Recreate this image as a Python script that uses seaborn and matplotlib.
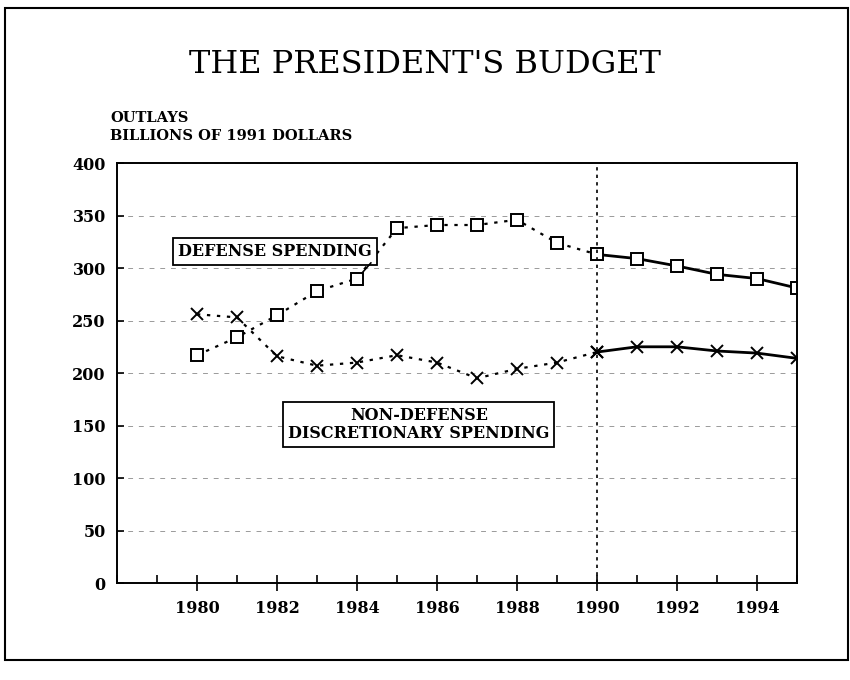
import pandas as pd
import seaborn as sns
import matplotlib.pyplot as plt
from matplotlib.patches import Rectangle
from matplotlib.ticker import MultipleLocator

sns.set_style("white")
plt.rcParams['font.family'] = ['DejaVu Serif']
plt.rcParams['text.color'] = 'black'
plt.rcParams['xtick.color'] = 'black'
plt.rcParams['ytick.color'] = 'black'

years = list(range(1980, 1996))
defense = [217, 234, 255, 278, 290, 338, 341, 341, 346, 324, 313, 309, 302, 294, 290, 281]
non_defense = [256, 253, 216, 207, 210, 217, 210, 195, 204, 210, 220, 225, 225, 221, 219, 214]
split_year = 1990
major_ticks = list(range(1980, 1996, 2))
y_ticks = list(range(0, 401, 50))

df = pd.DataFrame({"year": years * 2,
                   "outlays": defense + non_defense,
                   "series": ["defense"] * len(years) + ["non_defense"] * len(years)})

fig = plt.figure(figsize=(8.5, 6.8), dpi=100)
ax = fig.add_axes([0.1376, 0.1426, 0.80, 0.6176])

styles = {"defense": dict(marker="s", markersize=8.5, markerfacecolor="white",
                          markeredgecolor="black", markeredgewidth=1.4),
          "non_defense": dict(marker="x", markersize=9, markeredgecolor="black",
                              markeredgewidth=1.4)}

for name, st in styles.items():
    d = df[df.series == name]
    past = d[d.year <= split_year]
    plan = d[d.year >= split_year]
    sns.lineplot(data=past, x="year", y="outlays", ax=ax, color="black",
                 linestyle=(0, (1.5, 3)), linewidth=1.6, **st)
    sns.lineplot(data=plan, x="year", y="outlays", ax=ax, color="black",
                 linestyle="-", linewidth=2.0, **st)

ax.axvline(split_year, color="black", linestyle=(0, (2, 2.5)), linewidth=1.2)

ax.set_xlim(1978, 1995)
ax.set_ylim(0, 400)
ax.set_xticks(major_ticks)
ax.xaxis.set_minor_locator(MultipleLocator(1))
ax.set_yticks(y_ticks)
ax.set_xlabel("")
ax.set_ylabel("")
ax.yaxis.grid(True, color="#9a9a9a", linestyle=(0, (5, 6)), linewidth=0.7)
ax.set_axisbelow(True)

for s in ax.spines.values():
    s.set_color("black")
    s.set_linewidth(1.4)

ax.tick_params(axis="x", which="major", direction="inout", length=12, width=1.2,
               labelsize=11.5, pad=6, bottom=True)
ax.tick_params(axis="x", which="minor", direction="in", length=6, width=1.2, bottom=True)
ax.tick_params(axis="y", direction="in", length=5, width=1.2, labelsize=11.5, left=True, pad=8)
for lab in ax.get_xticklabels() + ax.get_yticklabels():
    lab.set_fontweight("bold")

box = dict(boxstyle="square,pad=0.3", facecolor="white", edgecolor="black", linewidth=1.3)
ax.text(1981.95, 316, "DEFENSE SPENDING", ha="center", va="center",
        fontsize=11.5, fontweight="bold", bbox=box, zorder=5)
# leader from the label box down to the 1984 point
ax.annotate("", xy=(1984.12, 295), xytext=(1984.35, 305),
            arrowprops=dict(arrowstyle="-", color="black", lw=1.2,
                            shrinkA=0, shrinkB=0), zorder=6)
ax.text(1985.55, 151, "NON-DEFENSE\nDISCRETIONARY SPENDING", ha="center", va="center",
        fontsize=11.5, fontweight="bold", bbox=box, linespacing=1.1)

fig.text(0.5, 0.905, "THE PRESIDENT'S BUDGET", ha="center", va="center", fontsize=23)
fig.text(0.13, 0.79, "OUTLAYS\nBILLIONS OF 1991 DOLLARS", ha="left", va="bottom",
         fontsize=10.5, fontweight="bold", linespacing=1.3)

fig.add_artist(Rectangle((0.006, 0.03), 0.992, 0.958, transform=fig.transFigure,
                         fill=False, edgecolor="black", linewidth=1.5))

fig.savefig("out.png", dpi=100)
